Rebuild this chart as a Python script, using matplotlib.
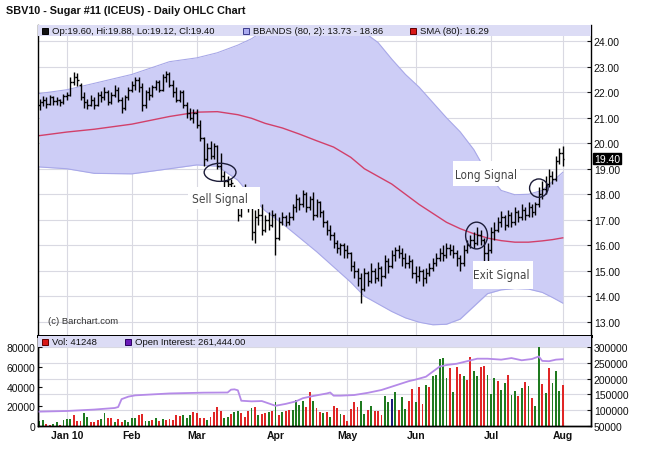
import matplotlib
matplotlib.use('Agg')
import matplotlib.pyplot as plt
from matplotlib.patches import Rectangle, Ellipse
from matplotlib import font_manager
from matplotlib.transforms import blended_transform_factory

# ---------------- data ----------------
opens = [21.5, 21.6, 21.7, 21.55, 21.8, 21.65, 21.7, 21.6, 21.85, 21.9,
         22.4, 22.6, 22.3, 21.8, 21.6, 21.5, 21.7, 21.5, 21.9, 21.8,
         22.0, 21.6, 21.9, 22.1, 21.7, 21.4, 21.8, 22.1, 22.3, 22.5,
         22.2, 21.5, 22.0, 21.9, 22.2, 22.4, 22.1, 22.6, 22.7, 22.3,
         22.0, 21.7, 22.0, 21.5, 21.2, 21.0, 21.2, 20.7, 20.2, 19.4,
         19.8, 19.5, 19.9, 19.1, 18.7, 18.5, 18.4, 18.3, 17.9, 17.2,
         17.8, 18.1, 17.5, 16.5, 17.1, 17.2, 16.6, 17.0, 16.8, 17.2,
         16.3, 16.9, 17.1, 16.9, 17.1, 17.5, 17.8, 17.6, 18.0, 17.5,
         17.8, 17.2, 17.7, 17.3, 16.9, 16.6, 16.4, 16.1, 15.9, 16.0,
         15.8, 15.7, 15.2, 15.0, 14.7, 14.3, 14.9, 14.6, 15.0, 14.7,
         15.1, 14.8, 15.4, 15.2, 15.6, 15.8, 15.7, 15.5, 15.3, 15.4,
         14.9, 14.8, 15.0, 14.7, 14.9, 15.1, 15.3, 15.5, 15.7, 15.6,
         15.9, 15.8, 15.7, 15.5, 15.3, 15.8, 16.0, 16.2, 16.1, 16.4,
         16.2, 15.7, 15.8, 16.5, 16.6, 16.9, 17.1, 16.8, 17.2, 16.9,
         17.3, 17.1, 17.4, 17.2, 17.5, 17.3, 17.6, 18.0, 18.2, 18.4,
         18.7, 18.6, 19.3, 19.60]
highs = [21.75, 21.85, 21.8, 21.9, 21.85, 21.8, 21.75, 21.95, 22.0, 22.6,
         22.8, 22.75, 22.35, 22.0, 21.75, 21.9, 21.8, 22.0, 22.05, 22.2,
         22.1, 22.0, 22.3, 22.2, 21.8, 21.9, 22.2, 22.45, 22.6, 22.6,
         22.35, 22.1, 22.2, 22.3, 22.5, 22.5, 22.7, 22.85, 22.8, 22.5,
         22.2, 22.1, 22.1, 21.6, 21.4, 21.35, 21.35, 20.9, 20.25, 20.0,
         20.1, 20.0, 19.95, 19.6, 18.9, 18.7, 18.6, 18.35, 17.95, 17.9,
         18.4, 18.15, 17.55, 17.4, 17.5, 17.6, 17.2, 17.3, 17.4, 17.25,
         17.1, 17.3, 17.2, 17.3, 17.6, 18.0, 17.9, 18.15, 18.1, 17.95,
         18.1, 17.8, 17.75, 17.4, 17.0, 16.8, 16.5, 16.2, 16.1, 16.1,
         16.0, 15.75, 15.4, 15.1, 14.9, 15.1, 15.0, 15.3, 15.1, 15.35,
         15.2, 15.6, 15.5, 15.8, 15.95, 16.0, 15.9, 15.7, 15.6, 15.45,
         15.2, 15.2, 15.05, 15.1, 15.3, 15.5, 15.7, 15.9, 16.0, 16.1,
         16.05, 16.0, 15.8, 15.6, 16.0, 16.2, 16.4, 16.5, 16.7, 16.6,
         16.3, 16.1, 16.7, 16.9, 17.1, 17.35, 17.2, 17.4, 17.3, 17.5,
         17.4, 17.6, 17.5, 17.7, 17.6, 17.7, 18.3, 18.5, 18.7, 19.0,
         18.9, 19.5, 19.8, 19.88]
lows = [21.3, 21.45, 21.4, 21.5, 21.5, 21.5, 21.45, 21.55, 21.7, 21.85,
        22.3, 22.25, 21.7, 21.4, 21.35, 21.45, 21.35, 21.45, 21.6, 21.7,
        21.5, 21.55, 21.8, 21.6, 21.2, 21.3, 21.7, 22.0, 22.1, 22.0,
        21.25, 21.4, 21.7, 21.8, 22.1, 22.0, 22.05, 22.4, 22.2, 21.8,
        21.6, 21.6, 21.4, 21.0, 20.9, 20.8, 20.6, 20.1, 19.1, 19.3,
        19.4, 19.4, 19.0, 18.5, 18.3, 18.3, 18.3, 17.7, 16.95, 17.1,
        17.7, 17.3, 16.2, 16.1, 16.8, 16.4, 16.5, 16.6, 16.7, 15.6,
        16.2, 16.8, 16.75, 16.8, 17.0, 17.3, 17.4, 17.5, 17.3, 17.4,
        17.0, 17.1, 17.1, 16.7, 16.4, 16.2, 15.9, 15.7, 15.6, 15.5,
        15.5, 15.0, 14.7, 14.4, 13.74, 14.2, 14.4, 14.5, 14.5, 14.6,
        14.4, 14.7, 14.9, 15.1, 15.4, 15.5, 15.2, 15.1, 15.1, 14.7,
        14.5, 14.6, 14.4, 14.5, 14.8, 15.0, 15.2, 15.4, 15.4, 15.5,
        15.6, 15.5, 15.2, 15.0, 15.2, 15.7, 15.9, 15.9, 16.0, 16.0,
        15.35, 15.4, 15.7, 16.2, 16.5, 16.7, 16.6, 16.7, 16.7, 16.8,
        16.9, 17.0, 17.0, 17.1, 17.1, 17.2, 17.5, 17.8, 18.0, 18.3,
        18.4, 18.5, 19.2, 19.12]
closes = [21.6, 21.7, 21.55, 21.8, 21.65, 21.7, 21.6, 21.85, 21.9, 22.4,
          22.6, 22.5, 21.8, 21.6, 21.5, 21.7, 21.5, 21.9, 21.8, 22.0,
          21.6, 21.9, 22.1, 21.7, 21.4, 21.8, 22.1, 22.3, 22.5, 22.2,
          21.5, 22.0, 21.9, 22.2, 22.4, 22.1, 22.6, 22.7, 22.3, 22.0,
          21.7, 22.0, 21.5, 21.2, 21.0, 21.2, 20.7, 20.2, 19.4, 19.8,
          19.5, 19.9, 19.1, 18.7, 18.5, 18.4, 18.45, 17.9, 17.2, 17.8,
          18.1, 17.5, 16.5, 17.1, 17.2, 16.6, 17.0, 16.8, 17.2, 16.3,
          16.9, 17.1, 16.9, 17.1, 17.5, 17.8, 17.6, 18.0, 17.5, 17.8,
          17.2, 17.7, 17.3, 16.9, 16.6, 16.4, 16.1, 15.9, 16.0, 15.8,
          15.7, 15.2, 15.0, 14.7, 14.3, 14.9, 14.6, 15.0, 14.7, 15.1,
          14.8, 15.4, 15.2, 15.6, 15.8, 15.7, 15.5, 15.3, 15.4, 14.9,
          14.8, 15.0, 14.7, 14.9, 15.1, 15.3, 15.5, 15.7, 15.6, 15.9,
          15.8, 15.7, 15.5, 15.3, 15.8, 16.0, 16.2, 16.1, 16.4, 16.2,
          15.7, 15.8, 16.5, 16.6, 16.9, 17.1, 16.8, 17.2, 16.9, 17.3,
          17.1, 17.4, 17.2, 17.5, 17.3, 17.6, 18.0, 18.2, 18.4, 18.7,
          18.6, 19.3, 19.6, 19.40]

# Bollinger bands / SMA(80) read at sample bars
band_idx = [0, 8, 16, 27, 38, 46, 52, 58, 62, 66, 71, 76, 81, 86, 91, 95,
            99, 103, 107, 111, 115, 119, 123, 127, 131, 135, 139, 143, 147, 150, 153]
band_upper = [21.95, 22.1, 22.35, 22.7, 23.2, 23.35, 23.55, 23.85, 24.1, 24.45,
              24.7, 24.8, 24.8, 24.75, 24.6, 24.35, 23.95, 23.3, 22.7, 22.2,
              21.6, 21.0, 20.45, 19.75, 18.8, 18.15, 17.98, 18.0, 18.15, 18.5, 18.86]
band_lower = [19.07, 19.0, 18.82, 18.8, 19.0, 19.15, 19.1, 18.55, 17.9, 17.35,
              16.85, 16.3, 15.75, 15.15, 14.55, 14.0, 13.7, 13.4, 13.15, 12.98,
              12.88, 12.9, 13.1, 13.6, 14.1, 14.25, 14.3, 14.28, 14.15, 13.95, 13.73]
sma80 = [20.30, 20.44, 20.55, 20.75, 21.05, 21.22, 21.24, 21.12, 20.98, 20.78,
         20.6, 20.36, 20.1, 19.85, 19.45, 19.0, 18.7, 18.4, 18.0, 17.6,
         17.25, 16.9, 16.65, 16.45, 16.28, 16.18, 16.12, 16.12, 16.17, 16.22, 16.29]

volume = [5000, 6000, 2500, 1500, 2500, 4000, 1500, 6000, 7000, 7000,
          11000, 5000, 5000, 13000, 9500, 4000, 4500, 6000, 7000, 13000,
          8500, 8500, 4500, 7000, 4500, 6000, 4500, 8000, 8000, 11000,
          12500, 5000, 5000, 6000, 8000, 5000, 7000, 6000, 7000, 6000,
          11000, 10000, 11000, 8500, 11000, 14000, 13000, 8500, 8500, 6000,
          9500, 14000, 19000, 15000, 8000, 9500, 12000, 14000, 15500, 13000,
          9500, 15500, 18000, 19000, 11000, 12000, 13000, 14000, 15500, 24500,
          11000, 14000, 15000, 16500, 16500, 26000, 21500, 25300, 19600, 34000,
          25600, 18500, 13800, 13500, 14500, 9500, 20000, 18000, 11800, 11000,
          5400, 17200, 24000, 19600, 25300, 12200, 16200, 20000, 15200, 15500,
          11000, 30400, 24000, 27000, 34100, 16200, 29700, 16900, 25300, 37100,
          24600, 39800, 21900, 41500, 39800, 51000, 51600, 67500, 69200, 49000,
          58400, 34100, 60000, 52600, 51000, 46600, 70200, 55700, 50600, 60000,
          61000, 51600, 32000, 48300, 45600, 36500, 43200, 51600, 31400, 35400,
          30400, 38800, 44200, 40800, 28000, 20600, 80000, 42200, 33800, 58400,
          43200, 55700, 35400, 41248]
# g = up day, r = down day, b = unchanged
vol_dir = list("ggrrggrggg" "rrrggrrrgg" "rrgrrggggr" "rggrgrgrrr" "rrgggrrrrg"
               "rrrrggrggr" "rrgrgrrgrg" "rgrrggggrr" "grrgrgrrgr" "rrrrggrgrr"
               "rggbgrggrr" "grrgrggggg" "rgrrgrrggr" "rgggrggrgg" "rgrgrggrgr"
               "gggr")
oi_idx = [0, 8, 16, 22, 23, 24, 26, 28, 38, 48, 55, 56, 57, 58, 59, 62, 65, 69,
          72, 75, 77, 80, 84, 85, 86, 88, 92, 96, 100, 104, 108, 110, 113, 115,
          117, 119, 122, 125, 128, 131, 135, 138, 141, 144, 146, 147, 149, 151, 153]
open_interest = [95500, 97500, 102000, 107000, 110000, 135000, 143000, 147000, 153000,
                 155500, 156000, 165000, 166000, 163000, 130000, 128000, 129000, 114000,
                 120000, 128000, 138000, 145000, 153000, 156000, 146000, 146000, 148000,
                 155000, 164000, 178000, 192000, 197000, 206000, 222000, 238000, 243000,
                 247000, 255000, 263000, 263000, 260000, 265000, 258000, 262000, 270000,
                 256000, 255000, 260000, 261444]

month_idx = [8, 27, 46, 69, 90, 110, 132, 153]
month_lbl = ['Jan 10', 'Feb', 'Mar', 'Apr', 'May', 'Jun', 'Jul', 'Aug']
price_ticks = [13, 14, 15, 16, 17, 18, 19, 20, 21, 22, 23, 24]
vol_ticks = [0, 20000, 40000, 60000, 80000]
oi_ticks = [50000, 100000, 150000, 200000, 250000, 300000]

# ---------------- layout ----------------
W, H = 650, 464
plt.rcParams['font.family'] = ['Liberation Sans', 'DejaVu Sans']
fig = plt.figure(figsize=(W / 100, H / 100), dpi=100)
fig.patch.set_facecolor('white')

X0, X1 = 38, 591
MAIN_TOP, MAIN_BOT, VOL_BOT = 26, 336.5, 427
ax = fig.add_axes([X0 / W, 1 - MAIN_BOT / H, (X1 - X0) / W, (MAIN_BOT - MAIN_TOP) / H])
axv = fig.add_axes([X0 / W, 1 - VOL_BOT / H, (X1 - X0) / W, (VOL_BOT - MAIN_BOT) / H])
axo = axv.twinx()

XL = (-0.44, 161.26)
PY = (12.459, 24.639)
VY = (0, 91650)
OY = (50000, 336400)

n = len(closes)
idx = list(range(n))

# ---- main price panel ----
ax.set_xlim(*XL)
ax.set_ylim(*PY)
for m in month_idx:
    ax.axvline(m, color='#d9d9e2', lw=0.8, zorder=0.5)
for p in price_ticks:
    ax.axhline(p, color='#d9d9e2', lw=0.8, zorder=0.5)
ax.fill_between(band_idx, band_lower, band_upper, color='#cdcdf6', lw=0, zorder=1)
ax.plot(band_idx, band_upper, color='#a8a8e8', lw=0.8, zorder=1.5)
ax.plot(band_idx, band_lower, color='#a8a8e8', lw=0.8, zorder=1.5)
ax.plot(band_idx, sma80, color='#d2406a', lw=1.0, zorder=2)

ax.vlines(idx, lows, highs, color='black', lw=1.0, zorder=3)
ax.hlines(opens, [i - 0.5 for i in idx], idx, color='black', lw=1.0, zorder=3)
ax.hlines(closes, idx, [i + 0.5 for i in idx], color='black', lw=1.0, zorder=3)

# signal circles
for (cx, cy, w, h) in [(52.8, 18.86, 9.3, 0.71), (127.8, 16.38, 6.4, 1.05), (146.0, 18.24, 5.4, 0.72)]:
    ax.add_patch(Ellipse((cx, cy), w, h, fill=False, ec='#1c1c38', lw=1.0, zorder=4))

# signal label boxes
names = {f.name for f in font_manager.fontManager.ttflist}
if 'Liberation Sans Narrow' in names:
    sig_font = dict(family='Liberation Sans Narrow', fontsize=9.4)
elif any(f.name == 'DejaVu Sans' and 'condensed' in str(f.stretch) for f in font_manager.fontManager.ttflist):
    sig_font = dict(family='DejaVu Sans', fontstretch='condensed', fontsize=8.5)
else:
    sig_font = dict(family='Liberation Sans', fontsize=8.2)

for (x0b, x1b, ylo, yhi, tx, ty, s) in [
        (43.4, 64.5, 17.41, 18.30, 52.8, 17.83, 'Sell Signal'),
        (120.9, 140.5, 18.32, 19.30, 130.5, 18.78, 'Long Signal'),
        (126.7, 144.3, 14.27, 15.38, 134.9, 14.87, 'Exit Signal')]:
    ax.add_patch(Rectangle((x0b, ylo), x1b - x0b, yhi - ylo, fc='white', ec='none', zorder=5))
    ax.text(tx, ty, s, ha='center', va='center', color='#454545', zorder=6, **sig_font)

ax.text(2.6, 13.05, '(c) Barchart.com', fontsize=6.8, color='#333333', va='center', zorder=6)


def legend_item(a, px, yc_px, color, txt, ec):
    """Legend square + text; px, yc_px in figure pixels (from top)."""
    bb = a.get_position()
    ax_h_px = bb.height * H
    ax_y0_px = H - bb.y1 * H  # top of axes in px from top
    fx = (px - X0) / (X1 - X0)
    fyc = 1 - (yc_px - ax_y0_px) / ax_h_px
    sq_w = 6 / (X1 - X0)
    sq_h = 6 / ax_h_px
    a.add_patch(Rectangle((fx, fyc - sq_h / 2), sq_w, sq_h, transform=a.transAxes,
                          fc=color, ec=ec, lw=0.7, zorder=8, clip_on=False))
    a.text(fx + 10 / (X1 - X0), fyc, txt, color='#111111', fontsize=6.8, va='center', ha='left',
           transform=a.transAxes, zorder=8)


# legend bar
LB = (37 - MAIN_TOP) / (MAIN_BOT - MAIN_TOP)
ax.add_patch(Rectangle((0, 1 - LB), 1, LB, transform=ax.transAxes, fc='#dcdcf5', ec='none', zorder=7, clip_on=False))
legend_item(ax, 42, 31.5, '#111111', 'Op:19.60, Hi:19.88, Lo:19.12, Cl:19.40', '#000000')
legend_item(ax, 243, 31.5, '#ababf0', 'BBANDS (80, 2): 13.73 - 18.86', '#3a3a8a')
legend_item(ax, 410, 31.5, '#d81818', 'SMA (80): 16.29', '#600000')

ax.yaxis.tick_right()
ax.set_yticks(price_ticks)
ax.set_yticklabels(['%.2f' % p for p in price_ticks])
ax.tick_params(axis='y', direction='in', length=3, width=0.8, labelsize=7.5, pad=2, colors='#111111')
ax.set_xticks([])
for s in ['left', 'right']:
    ax.spines[s].set_color('black'); ax.spines[s].set_linewidth(1.0)
ax.spines['bottom'].set_color('black'); ax.spines['bottom'].set_linewidth(2.0)
ax.spines['top'].set_visible(False)

# price tag
tr = blended_transform_factory(ax.transAxes, ax.transData)
ax.text(1.006, 19.40, '19.40', transform=tr, fontsize=7.5, color='white', va='center', ha='left',
        bbox=dict(boxstyle='square,pad=0.08', fc='black', ec='black'), zorder=10, clip_on=False)

# ---- volume / open interest panel ----
axv.set_xlim(*XL)
axv.set_ylim(*VY)
axo.set_ylim(*OY)
for m in month_idx:
    axv.axvline(m, color='#d9d9e2', lw=0.8, zorder=0.5)
for o in oi_ticks[1:]:
    axv.axhline((o - OY[0]) / (OY[1] - OY[0]) * VY[1], color='#d9d9e2', lw=0.8, zorder=0.5)
cmap = {'g': '#1f7a1f', 'r': '#e02626', 'b': '#1a1a7a'}
axv.bar(idx, volume, width=0.55, color=[cmap[c] for c in vol_dir[:n]], zorder=2)
axo.plot(oi_idx, open_interest, color='#b58ae8', lw=1.3, zorder=3)

VLB = (348 - MAIN_BOT) / (VOL_BOT - MAIN_BOT)
axo.add_patch(Rectangle((0, 1 - VLB), 1, VLB, transform=axo.transAxes, fc='#dcdcf5', ec='none', zorder=7))
legend_item(axo, 42, 342.5, '#d81818', 'Vol: 41248', '#600000')
legend_item(axo, 125, 342.5, '#6a1ab8', 'Open Interest: 261,444.00', '#2a0060')

axv.set_yticks(vol_ticks)
axv.set_yticklabels([str(v) for v in vol_ticks])
axv.tick_params(axis='y', direction='in', length=3, width=0.8, labelsize=7.5, pad=2, colors='#111111')
axo.set_yticks(oi_ticks)
axo.set_yticklabels([str(v) for v in oi_ticks])
axo.tick_params(axis='y', direction='in', length=3, width=0.8, labelsize=7.5, pad=2, colors='#111111')
axv.set_xticks(month_idx)
axv.set_xticklabels(month_lbl, fontweight='bold')
axv.tick_params(axis='x', direction='in', length=3, width=0.8, labelsize=7.5, pad=3, colors='#111111')
for a in (axv, axo):
    for s in ['left', 'right', 'bottom']:
        a.spines[s].set_color('black'); a.spines[s].set_linewidth(1.0)
    a.spines['top'].set_color('black'); a.spines['top'].set_linewidth(2.0)

fig.text(6 / W, 1 - 10.5 / H, 'SBV10 - Sugar #11 (ICEUS) - Daily OHLC Chart', fontsize=7.8,
         fontweight='bold', color='#111111', va='center', ha='left')

fig.savefig('out.png', dpi=100, facecolor='white')
